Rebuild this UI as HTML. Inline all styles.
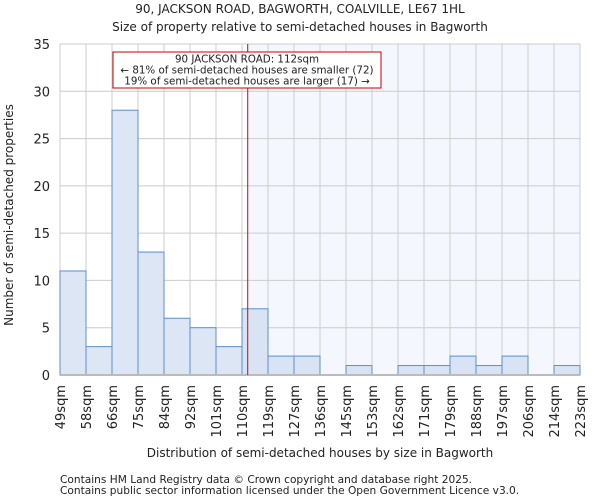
<!DOCTYPE html>
<html><head><meta charset="utf-8"><style>
body{margin:0;background:#fff;font-family:"DejaVu Sans","Liberation Sans",sans-serif;}
svg text{font-family:"DejaVu Sans","Liberation Sans",sans-serif;fill:#222;}
</style></head><body>
<svg id="chart" width="600" height="500" viewBox="0 0 600 500">
<text x="300" y="13" font-size="12" text-anchor="middle">90, JACKSON ROAD, BAGWORTH, COALVILLE, LE67 1HL</text>
<text x="300" y="31" font-size="12" text-anchor="middle">Size of property relative to semi-detached houses in Bagworth</text>
<g id="grid"></g><g id="bars"></g><g id="axes"></g>
<text transform="translate(13,215) rotate(-90)" font-size="12" text-anchor="middle">Number of semi-detached properties</text>
<text x="320" y="457" font-size="12" text-anchor="middle">Distribution of semi-detached houses by size in Bagworth</text>
<text x="60" y="483" font-size="10.6" fill="#444">Contains HM Land Registry data © Crown copyright and database right 2025.</text>
<text x="60" y="494" font-size="10.6" fill="#444">Contains public sector information licensed under the Open Government Licence v3.0.</text>
</svg>
<script>
const labels=["49sqm","58sqm","66sqm","75sqm","84sqm","92sqm","101sqm","110sqm","119sqm","127sqm","136sqm","145sqm","153sqm","162sqm","171sqm","179sqm","188sqm","197sqm","206sqm","214sqm","223sqm"];
const counts=[11,3,28,13,6,5,3,7,2,2,0,1,0,1,1,2,1,2,0,1];
const yTicks=[0,5,10,15,20,25,30,35];
const propertyBin=7.22;
const NS="http://www.w3.org/2000/svg";
const x0=60,x1=580,y0=375,y1=44,yMax=35;
const bw=(x1-x0)/counts.length;
const X=i=>x0+i*bw;
const Y=v=>y0-(v/yMax)*(y0-y1);
function mk(t,a,p){const e=document.createElementNS(NS,t);for(const k in a)e.setAttribute(k,a[k]);p.appendChild(e);return e;}
const grid=document.getElementById('grid'),bars=document.getElementById('bars'),axes=document.getElementById('axes');
const rx=X(propertyBin);
const shade=mk('rect',{x:rx,y:y1,width:x1-rx,height:y0-y1,fill:'#f4f7fd'},grid);


yTicks.forEach(v=>{
 const l=mk('line',{x1:x0,x2:x1,y1:Y(v),y2:Y(v),stroke:'#cccccc'},grid);
 
 
 const t=mk('text',{x:x0-10,y:Y(v)+5,'font-size':13,'text-anchor':'end'},axes);
 t.textContent=v;
 
 
});
labels.forEach((s,i)=>{
 const l=mk('line',{x1:X(i),x2:X(i),y1:y1,y2:y0,stroke:'#cccccc'},grid);
 
 
 const t=mk('text',{transform:`translate(${X(i)+5},${y0+10}) rotate(-90)`,'font-size':13,'text-anchor':'end'},axes);
 t.textContent=s;
 
 
});
counts.forEach((c,i)=>{
 if(c<=0)return;
 const r=mk('rect',{x:X(i),y:Y(c),width:bw,height:y0-Y(c),fill:i>=7?'#d8e3f4':'#dde6f4',stroke:'#5b8ed6','stroke-width':1},bars);
 
 
});
const ax=mk('line',{x1:x0,x2:x1,y1:y0,y2:y0,stroke:'#bbbbbb','stroke-width':2},axes);


const ml=mk('line',{x1:rx,x2:rx,y1:y1,y2:y0,stroke:'#dd0000','stroke-width':1},axes);


const box=mk('rect',{x:113,y:52,width:268,height:36,fill:'#fff',stroke:'#cc0000'},axes);


["90 JACKSON ROAD: 112sqm","← 81% of semi-detached houses are smaller (72)","19% of semi-detached houses are larger (17) →"].forEach((s,i)=>{
 const t=mk('text',{x:247,y:62.5+i*11,'font-size':10.3,'text-anchor':'middle'},axes);
 t.textContent=s;
 
 
});
</script>
</body></html>
